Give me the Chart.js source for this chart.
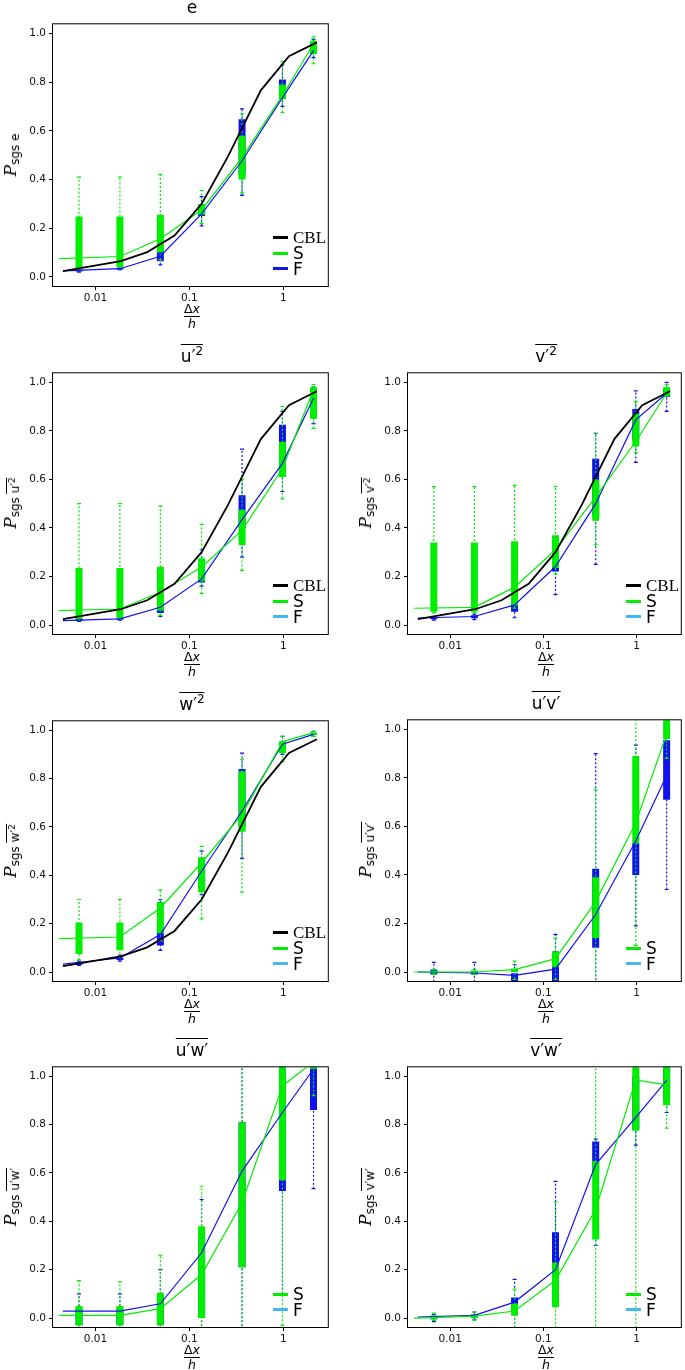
<!DOCTYPE html>
<html>
<head>
<meta charset="utf-8">
<script src="https://cdn.jsdelivr.net/npm/chart.js@4/dist/chart.umd.min.js"></script>
<style>
  body { margin: 0; background: #fff; width: 685px; height: 1370px; position: relative; overflow: hidden;
         font-family: "DejaVu Sans", sans-serif; color: #000; }
  canvas { position: absolute; }
  .title { position: absolute; font-size: 17px; line-height: 20px; transform: translateX(-50%); white-space: nowrap; }
  .ov { border-top: 1.3px solid #000; padding-top: 1px; }
  .title sup { font-size: 12px; line-height: 0; }
  .ylab { position: absolute; white-space: nowrap; transform: translate(-50%, -50%) rotate(-90deg); font-size: 14px; }
  .ylab .P { font-family: "DejaVu Serif", serif; font-style: italic; font-size: 17px; }
  .ylab sub { font-size: 12px; vertical-align: -3px; }
  .ylab sub sup { font-size: 9px; vertical-align: 4px; }
  .frac { position: absolute; transform: translateX(-50%); display: flex; flex-direction: column; align-items: center;
          font-size: 12.5px; line-height: 12px; }
  .frac .bar { align-self: stretch; height: 1px; background: #000; margin: 1px 0 1px 0; }
  .leg { position: absolute; display: flex; align-items: center; height: 16px; }
  .leg .ln { width: 15px; height: 3px; margin-right: 5px; }
  .leg .tx { font-size: 17px; line-height: 16px; }
  .leg .tx.serif { font-family: "Liberation Serif", "DejaVu Serif", serif; font-size: 17px; }
</style>
</head>
<body>
<script>
// box positions and line positions (dx/h)
const boxX = [0.00668, 0.0182, 0.0491, 0.135, 0.364, 0.98, 2.1];
const sX = [0.0041, 0.0182, 0.0491, 0.135, 0.364, 0.98, 2.1];
const fX = [0.0045, 0.0182, 0.0491, 0.135, 0.364, 0.98, 2.1];
const xTicks = [0.01, 0.1, 1];
const xTickLabels = ["0.01", "0.1", "1"];
const yTicks = [0, 0.2, 0.4, 0.6, 0.8, 1.0];

// CBL reference curve
const cblX = [0.0045, 0.0186, 0.0356, 0.0695, 0.135, 0.258, 0.577, 1.15, 2.28];
const cblY = [0.0245, 0.065, 0.102, 0.170, 0.300, 0.495, 0.766, 0.906, 0.963];

// series lines (S, F) and boxes [low whisker, q1, q3, high whisker]
const eS = [0.075, 0.084, 0.157, 0.275, 0.49, 0.745, 0.956];
const eF = [0.025, 0.034, 0.085, 0.259, 0.477, 0.736, 0.929];
const eSBox = [[0.03,0.035,0.248,0.41],[0.035,0.04,0.248,0.41],[0.07,0.10,0.255,0.42],[0.22,0.255,0.30,0.355],[0.345,0.40,0.58,0.67],[0.675,0.73,0.79,0.885],[0.875,0.915,0.97,0.985]];
const eFBox = [[0.02,0.022,0.03,0.032],[0.03,0.031,0.037,0.04],[0.05,0.065,0.11,0.13],[0.21,0.25,0.30,0.33],[0.335,0.42,0.647,0.69],[0.70,0.74,0.81,0.87],[0.90,0.92,0.96,0.975]];

const u2S = [0.059, 0.066, 0.135, 0.239, 0.39, 0.645, 0.97];
const u2F = [0.018, 0.025, 0.073, 0.19, 0.434, 0.666, 0.935];
const u2SBox = [[0.02,0.025,0.235,0.50],[0.025,0.03,0.235,0.50],[0.04,0.06,0.24,0.49],[0.13,0.18,0.275,0.415],[0.225,0.33,0.475,0.60],[0.52,0.61,0.755,0.90],[0.81,0.85,0.98,0.99]];
const u2FBox = [[0.015,0.017,0.025,0.027],[0.02,0.022,0.028,0.03],[0.035,0.05,0.075,0.09],[0.16,0.175,0.22,0.31],[0.28,0.40,0.535,0.725],[0.55,0.63,0.825,0.88],[0.83,0.87,0.96,0.98]];

const v2S = [0.069, 0.073, 0.156, 0.31, 0.528, 0.756, 0.955];
const v2F = [0.029, 0.035, 0.083, 0.241, 0.50, 0.845, 0.955];
const v2SBox = [[0.05,0.055,0.34,0.57],[0.05,0.055,0.34,0.57],[0.07,0.08,0.345,0.575],[0.21,0.235,0.37,0.57],[0.33,0.43,0.60,0.79],[0.71,0.735,0.87,0.92],[0.945,0.945,0.98,0.99]];
const v2FBox = [[0.02,0.024,0.032,0.035],[0.022,0.028,0.04,0.045],[0.03,0.055,0.10,0.11],[0.125,0.22,0.30,0.32],[0.25,0.45,0.685,0.79],[0.67,0.76,0.89,0.965],[0.88,0.94,0.975,1.0]];

const w2S = [0.138, 0.145, 0.265, 0.452, 0.652, 0.952, 0.99];
const w2F = [0.033, 0.058, 0.155, 0.417, 0.666, 0.942, 0.983];
const w2SBox = [[0.05,0.075,0.205,0.30],[0.06,0.09,0.205,0.30],[0.13,0.16,0.29,0.34],[0.22,0.33,0.475,0.52],[0.33,0.58,0.83,0.88],[0.87,0.905,0.955,0.975],[0.975,0.98,0.99,0.995]];
const w2FBox = [[0.028,0.03,0.04,0.045],[0.045,0.05,0.06,0.07],[0.09,0.11,0.17,0.30],[0.32,0.35,0.47,0.50],[0.47,0.60,0.84,0.905],[0.90,0.92,0.95,0.975],[0.975,0.98,0.99,0.995]];

const uvS = [0.0, 0.0, 0.01, 0.055, 0.29, 0.615, 0.98];
const uvF = [0.0, -0.004, -0.014, 0.012, 0.237, 0.54, 0.81];
const uvSBox = [[-0.01,-0.005,0.005,0.01],[-0.01,-0.005,0.005,0.01],[-0.03,0.0,0.015,0.045],[-0.03,0.02,0.085,0.14],[-0.05,0.14,0.39,0.75],[0.11,0.53,0.89,1.1],[0.88,0.96,1.1,1.1]];
const uvFBox = [[-0.04,-0.01,0.01,0.04],[-0.04,-0.01,0.005,0.04],[-0.05,-0.04,-0.005,0.03],[-0.05,-0.04,0.085,0.155],[-0.05,0.10,0.425,0.90],[0.19,0.40,0.53,0.935],[0.34,0.71,0.955,1.1]];

const uwS = [0.011, 0.011, 0.039, 0.18, 0.477, 0.96, 1.06];
const uwF = [0.029, 0.029, 0.059, 0.27, 0.608, 0.85, 1.03];
const uwSBox = [[-0.05,-0.03,0.05,0.155],[-0.05,-0.03,0.05,0.15],[-0.05,-0.03,0.105,0.26],[-0.05,0.0,0.38,0.545],[-0.05,0.21,0.81,1.1],[-0.03,0.57,1.1,1.1],[0.92,1.03,1.1,1.1]];
const uwFBox = [[-0.05,-0.03,0.04,0.10],[-0.05,-0.03,0.04,0.10],[-0.05,-0.03,0.09,0.20],[-0.05,0.0,0.33,0.49],[-0.05,0.21,0.81,1.1],[0.10,0.525,1.1,1.1],[0.535,0.86,1.1,1.1]];

const vwS = [0.0, 0.008, 0.029, 0.156, 0.45, 0.985, 0.964];
const vwF = [0.004, 0.011, 0.066, 0.20, 0.636, 0.83, 0.983];
const vwSBox = [[-0.01,-0.005,0.01,0.02],[-0.01,0.0,0.012,0.025],[-0.04,0.01,0.06,0.12],[-0.04,0.045,0.23,0.48],[-0.05,0.325,0.65,1.1],[-0.04,0.775,1.1,1.1],[0.785,0.88,1.1,1.1]];
const vwFBox = [[-0.015,-0.005,0.01,0.015],[-0.005,0.0,0.015,0.025],[-0.04,0.03,0.085,0.16],[0.1,0.18,0.355,0.565],[0.3,0.6,0.73,0.74],[0.715,0.78,1.0,1.1],[0.85,0.9,1.1,1.1]];

const GREEN = "#00ee00";
const BLUE = "#1010f0";
const LIGHTBLUE = "#45b6ee";

const ov = s => '<span class="ov">' + s + '</span>';
const panels = [
  { sym: "e", S: eS, F: eF, SBox: eSBox, FBox: eFBox, cbl: true, col: 0, top: 23, bottom: 286, fLeg: BLUE },
  { sym: ov("u′<sup>2</sup>"), S: u2S, F: u2F, SBox: u2SBox, FBox: u2FBox, cbl: true, col: 0, top: 372, bottom: 634, fLeg: LIGHTBLUE },
  { sym: ov("v′<sup>2</sup>"), S: v2S, F: v2F, SBox: v2SBox, FBox: v2FBox, cbl: true, col: 1, top: 372, bottom: 634, fLeg: LIGHTBLUE },
  { sym: ov("w′<sup>2</sup>"), S: w2S, F: w2F, SBox: w2SBox, FBox: w2FBox, cbl: true, col: 0, top: 720, bottom: 981, fLeg: LIGHTBLUE },
  { sym: ov("u′v′"), S: uvS, F: uvF, SBox: uvSBox, FBox: uvFBox, cbl: false, col: 1, top: 719, bottom: 981, fLeg: LIGHTBLUE },
  { sym: ov("u′w′"), S: uwS, F: uwF, SBox: uwSBox, FBox: uwFBox, cbl: false, col: 0, top: 1066, bottom: 1327, fLeg: LIGHTBLUE },
  { sym: ov("v′w′"), S: vwS, F: vwF, SBox: vwSBox, FBox: vwFBox, cbl: false, col: 1, top: 1066, bottom: 1327, fLeg: LIGHTBLUE }
];

// column geometry: plot left/right edges
const cols = [
  { plotLeft: 53, plotRight: 331, canvasLeft: 3 },
  { plotLeft: 408, plotRight: 684, canvasLeft: 358 }
];

function segPoints(boxes, a, b) {
  const pts = [];
  boxes.forEach((bx, i) => {
    pts.push({ x: boxX[i], y: bx[a] }, { x: boxX[i], y: bx[b] }, { x: boxX[i], y: null });
  });
  return pts;
}
const toXY = (xs, ys) => ys.map((y, i) => ({ x: xs[i], y: y }));

const framePlugin = {
  id: "frame",
  afterDraw(chart) {
    const a = chart.chartArea, ctx = chart.ctx;
    ctx.save();
    ctx.strokeStyle = "#000";
    ctx.lineWidth = 1;
    ctx.strokeRect(a.left - 0.5, a.top - 0.5, a.right - a.left + 1, a.bottom - a.top + 1);
    ctx.restore();
  }
};

function addDiv(cls, html, left, top) {
  const d = document.createElement("div");
  d.className = cls;
  d.innerHTML = html;
  d.style.left = left + "px";
  d.style.top = top + "px";
  document.body.appendChild(d);
  return d;
}

panels.forEach(p => {
  const c = cols[p.col];
  const padTop = 8, axisH = 22, axisW = c.plotLeft - c.canvasLeft;
  const canvas = document.createElement("canvas");
  const w = c.plotRight + 2 - c.canvasLeft;
  const h = p.bottom - p.top + padTop + axisH;
  canvas.width = w; canvas.height = h;
  canvas.style.left = c.canvasLeft + "px";
  canvas.style.top = (p.top - padTop) + "px";
  canvas.style.width = w + "px"; canvas.style.height = h + "px";
  document.body.appendChild(canvas);

  const datasets = [];
  if (p.cbl) datasets.push({ data: toXY(cblX, cblY), borderColor: "#000", borderWidth: 1.8, pointRadius: 0, order: 0 });
  datasets.push({ data: toXY(sX, p.S), borderColor: GREEN, borderWidth: 1.2, pointRadius: 0, order: 1 });
  datasets.push({ data: toXY(fX, p.F), borderColor: BLUE, borderWidth: 1.2, pointRadius: 0, order: 2 });
  datasets.push({ data: segPoints(p.SBox, 1, 2), borderColor: GREEN, borderWidth: 7, borderCapStyle: "butt", pointRadius: 0, order: 3 });
  datasets.push({ data: segPoints(p.SBox, 0, 3), borderColor: GREEN, borderWidth: 1.2, borderDash: [2, 2], pointStyle: "line", pointRadius: 2, pointBorderWidth: 1.2, pointBorderColor: GREEN, order: 4 });
  datasets.push({ data: segPoints(p.FBox, 1, 2), borderColor: BLUE, borderWidth: 7, borderCapStyle: "butt", pointRadius: 0, order: 5 });
  datasets.push({ data: segPoints(p.FBox, 0, 3), borderColor: BLUE, borderWidth: 1.2, borderDash: [2, 2], pointStyle: "line", pointRadius: 2, pointBorderWidth: 1.2, pointBorderColor: BLUE, order: 6 });
  datasets.forEach(d => { d.spanGaps = false; d.tension = 0; d.fill = false; });

  new Chart(canvas.getContext("2d"), {
    type: "line",
    data: { datasets: datasets },
    options: {
      responsive: false,
      animation: false,
      devicePixelRatio: 1,
      layout: { padding: { top: padTop, right: 2, left: 0, bottom: 0 } },
      plugins: { legend: { display: false }, tooltip: { enabled: false } },
      scales: {
        x: {
          type: "logarithmic", min: 0.00353, max: 2.98,
          afterBuildTicks: ax => { ax.ticks = xTicks.map(v => ({ value: v })); },
          afterFit: ax => { ax.height = axisH; },
          ticks: { callback: v => xTickLabels[xTicks.indexOf(v)], color: "#111", font: { family: "DejaVu Sans", size: 10.5 }, padding: 2, maxRotation: 0 },
          grid: { drawOnChartArea: false, tickLength: 4, color: "#000" },
          border: { display: false }
        },
        y: {
          min: -0.037, max: 1.037,
          afterBuildTicks: ax => { ax.ticks = yTicks.map(v => ({ value: v })); },
          afterFit: ax => { ax.width = axisW; },
          ticks: { callback: v => v.toFixed(1), color: "#111", font: { family: "DejaVu Sans", size: 10.5 }, padding: 3 },
          grid: { drawOnChartArea: false, tickLength: 4, color: "#000" },
          border: { display: false }
        }
      }
    },
    plugins: [framePlugin]
  });

  const cx = (c.plotLeft + c.plotRight) / 2;
  // title
  addDiv("title", p.sym, cx, p.top - 26);
  // y label
  addDiv("ylab", '<span class="P">P</span><sub>sgs ' + p.sym.replace('class="ov"', 'class="ov" style="border-top-width:1px"') + '</sub>', c.plotLeft - 42, (p.top + p.bottom) / 2);
  // x label
  addDiv("frac", '<div>Δ<i>x</i></div><div class="bar"></div><div><i>h</i></div>', cx, p.bottom + 17);
  // legend
  const items = [];
  if (p.cbl) items.push(["CBL", "#000", "serif"]);
  items.push(["S", GREEN, ""], ["F", p.fLeg, ""]);
  const legX = c.plotRight - 58;
  let yF = p.bottom - 17.5;
  items.slice().reverse().forEach((it, k) => {
    const yc = yF - k * 15.3;
    addDiv("leg", '<div class="ln" style="background:' + it[1] + '"></div><div class="tx ' + it[2] + '">' + it[0] + '</div>', legX, yc - 8);
  });
});
</script>
</body>
</html>
